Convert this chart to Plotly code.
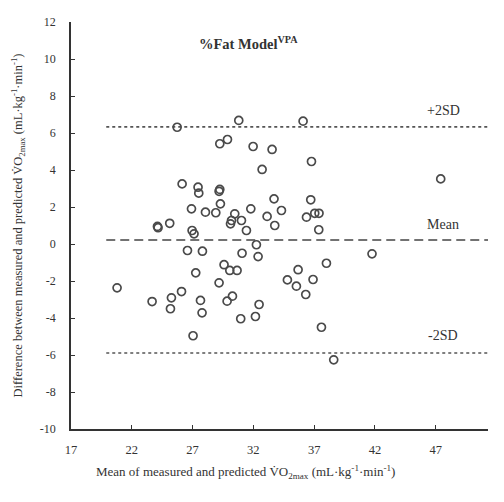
import plotly.graph_objects as go

# Bland-Altman data: mean of measured and predicted VO2max vs. their difference
mean_vo2 = [
    25.73, 30.80, 36.09, 29.24, 29.87, 31.98, 33.54, 32.72, 36.78, 47.41,
    26.14, 27.45, 27.51, 29.24, 29.18, 29.29, 26.91, 28.06, 28.91, 30.47,
    30.20, 30.12, 24.11, 24.16, 25.12, 26.96, 27.12, 33.70, 31.79, 34.31,
    33.13, 33.76, 31.02, 31.43, 36.72, 36.37, 37.05, 37.40, 37.38,
    32.25, 26.58, 27.81, 31.07, 32.39, 27.26, 29.59, 30.06, 30.66, 29.18,
    26.09, 23.67, 25.26, 25.18, 27.65, 27.78, 29.84, 30.28, 35.68, 38.01,
    34.80, 35.54, 36.91, 36.31, 32.47, 32.17, 30.96, 27.04, 20.79, 37.60,
    38.61, 41.76,
]
diff_vo2 = [
    6.31, 6.68, 6.64, 5.42, 5.65, 5.27, 5.11, 4.03, 4.46, 3.52,
    3.25, 3.07, 2.75, 2.95, 2.85, 2.17, 1.90, 1.72, 1.69, 1.63,
    1.27, 1.09, 0.95, 0.88, 1.12, 0.73, 0.55, 2.44, 1.90, 1.81,
    1.49, 1.00, 1.27, 0.73, 2.39, 1.45, 1.66, 1.66, 0.77,
    -0.04, -0.35, -0.39, -0.50, -0.68, -1.56, -1.12, -1.43, -1.43, -2.10,
    -2.57, -3.11, -2.91, -3.50, -3.05, -3.72, -3.09, -2.82, -1.39, -1.04,
    -1.94, -2.28, -1.92, -2.73, -3.27, -3.92, -4.04, -4.96, -2.37, -4.50,
    -6.26, -0.53,
]

# Bias and limits of agreement
bias = 0.22
upper_loa = 6.33
lower_loa = -5.89
line_span = [19.9, 51.3]

x_ticks = [17, 22, 27, 32, 37, 42, 47]
y_ticks = [12, 10, 8, 6, 4, 2, 0, -2, -4, -6, -8, -10]
y_tick_text = [str(v) for v in y_ticks]  # plain hyphen minus signs

serif = "Liberation Serif, Times New Roman, serif"
ink = "#333333"

fig = go.Figure()

fig.add_trace(go.Scatter(
    x=line_span, y=[upper_loa, upper_loa], mode="lines",
    line=dict(color="#555555", width=1.6, dash="dot"),
    hoverinfo="skip", showlegend=False,
))
fig.add_trace(go.Scatter(
    x=line_span, y=[lower_loa, lower_loa], mode="lines",
    line=dict(color="#555555", width=1.6, dash="dot"),
    hoverinfo="skip", showlegend=False,
))
fig.add_trace(go.Scatter(
    x=line_span, y=[bias, bias], mode="lines",
    line=dict(color="#444444", width=1.6, dash="9px,5px"),
    hoverinfo="skip", showlegend=False,
))

fig.add_trace(go.Scatter(
    x=mean_vo2, y=diff_vo2, mode="markers",
    marker=dict(symbol="circle-open", size=8, color="#4a4a4a",
                line=dict(width=1.7, color="#4a4a4a")),
    showlegend=False,
))

label_x = 47.6
fig.add_annotation(x=label_x, y=upper_loa + 0.9, text="+2SD", showarrow=False,
                   font=dict(family=serif, size=14, color=ink))
fig.add_annotation(x=label_x, y=bias + 0.85, text="Mean", showarrow=False,
                   font=dict(family=serif, size=14, color=ink))
fig.add_annotation(x=label_x, y=lower_loa + 0.95, text="-2SD", showarrow=False,
                   font=dict(family=serif, size=14, color=ink))

fig.add_annotation(x=31.6, y=10.85, text="<b>%Fat Model<sup>VPA</sup></b>",
                   showarrow=False, font=dict(family=serif, size=14.5, color=ink))

fig.add_annotation(
    xref="paper", yref="paper", x=0, y=0, showarrow=False, yanchor="middle",
    text="Mean of measured and predicted V\u0307O<sub>2max</sub> (mL\u00b7kg<sup>-1</sup>\u00b7min<sup>-1</sup>)",
    font=dict(family=serif, size=13, color=ink),
)

left, right, top, bottom = 71, 16, 22, 73

fig.update_layout(
    width=504, height=502,
    margin=dict(l=left, r=right, t=top, b=bottom),
    paper_bgcolor="white", plot_bgcolor="white",
    font=dict(family=serif, color=ink),
    xaxis=dict(
        range=[17, 51.3], tickvals=x_ticks, ticks="inside", ticklen=4,
        tickcolor=ink, showline=True, linecolor=ink, linewidth=1.6,
        showgrid=False, zeroline=False, tickfont=dict(family=serif, size=12.5, color=ink),
        ticklabelstandoff=8,
    ),
    yaxis=dict(
        range=[-10, 12], tickvals=y_ticks, ticktext=y_tick_text,
        ticks="inside", ticklen=4,
        tickcolor=ink, showline=True, linecolor=ink, linewidth=1.6,
        showgrid=False, zeroline=False, tickfont=dict(family=serif, size=12, color=ink),
        ticklabelstandoff=11,
        title=dict(
            text="Difference between measured and predicted V\u0307O<sub>2max</sub> (mL\u00b7kg<sup>-1</sup>\u00b7min<sup>-1</sup>)",
            font=dict(family=serif, size=12.5, color=ink), standoff=14,
        ),
    ),
)

# place the x-axis title in pixel terms, centred under the text block
plot_w = 504 - left - right
plot_h = 502 - top - bottom
ann = fig.layout.annotations[-1]
ann.x = (245 - left) / plot_w
ann.y = (502 - bottom - 472) / plot_h

fig.write_html("out.html")
